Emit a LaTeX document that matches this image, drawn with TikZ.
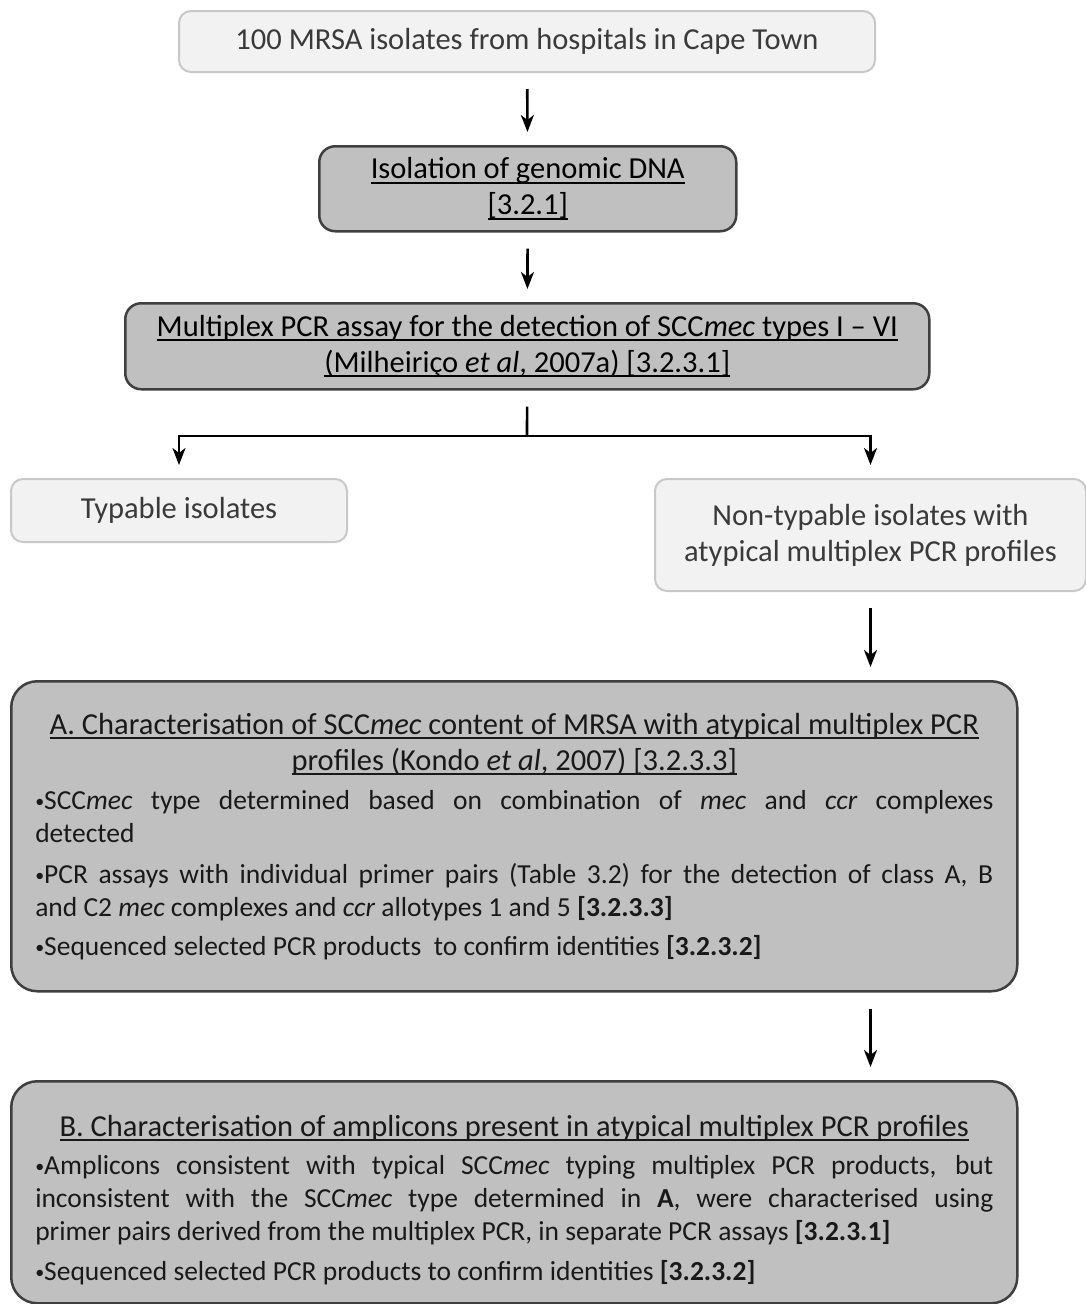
\documentclass[tikz,border=0pt]{standalone}
\usepackage{fontspec}
\setmainfont{Carlito}
\usetikzlibrary{arrows.meta,calc,positioning}
\definecolor{mrsapale}{HTML}{F2F2F2}
\definecolor{mrsapaleedge}{HTML}{C8C8C8}
\definecolor{mrsagray}{HTML}{C0C0C0}
\definecolor{mrsadarkedge}{HTML}{3F3F3F}
\definecolor{mrsatext}{HTML}{3A3A3A}
\newcommand{\SCCmec}{SCC\textit{mec}}
\newcommand{\headul}[1]{\leavevmode\setbox0\hbox{#1}\rlap{\rule[-5pt]{\wd0}{1.8pt}}\box0}
\newcommand{\headfont}{\fontsize{30.5}{36}\selectfont}
\newcommand{\dotitem}{\raisebox{0.15ex}{\fontsize{18}{18}\selectfont •}}

\begin{document}
\begin{tikzpicture}[
  x=1pt,y=-1pt,
  >=Stealth,
  basebox/.style={anchor=north west,align=center,inner sep=0pt,font=\headfont},
  sample/.style={basebox,draw=mrsapaleedge,line width=2pt,fill=mrsapale,
                 rounded corners=12pt,text=mrsatext},
  method/.style={basebox,draw=mrsadarkedge,line width=2.5pt,fill=mrsagray,
                 rounded corners=16pt,text=black},
  detail/.style={method,rounded corners=26pt,align=justify,text width=958pt,
                 text=black!90,font=\fontsize{27.5}{33}\selectfont},
  flow/.style={line width=2.6pt,-{Stealth[length=17pt,width=13pt,inset=5pt]},
               shorten <=16pt,shorten >=13pt},
  branch/.style={line width=2.6pt,shorten <=16pt}
]
  \useasboundingbox (0,0) rectangle (1086,1304);

  \node[sample,minimum width=696pt,minimum height=61pt] (isolates) at (178,10)
    {100 MRSA isolates from hospitals in Cape Town};
  \node[method,minimum width=417pt,minimum height=85pt] (dna) at (318,145)
    {\headul{Isolation of genomic DNA}\\\headul{[3.2.1]}};
  \node[method,minimum width=804pt,minimum height=86pt] (mpcr) at (124,302)
    {\headul{Multiplex PCR assay for the detection of \SCCmec{} types I -- VI}\\
     \headul{(Milheiriço \textit{et al}, 2007a) [3.2.3.1]}};
  \node[sample,minimum width=336pt,minimum height=63pt] (typable) at (10,478)
    {Typable isolates};
  \node[sample,minimum width=431pt,minimum height=112pt] (nontypable) at (654,478)
    {Non-typable isolates with\\atypical multiplex PCR profiles};

  \node[detail,minimum width=1006pt,minimum height=310pt] (charA) at (10,680)
    {{\centering\headfont
      \headul{A. Characterisation of \SCCmec{} content of MRSA with atypical multiplex PCR}\\
      \headul{profiles (Kondo \textit{et al}, 2007) [3.2.3.3]}\par}\vspace{6pt}
     \dotitem\SCCmec{} type determined based on combination of \textit{mec} and \textit{ccr} complexes\linebreak
     detected\par\vspace{8pt}
     \dotitem PCR assays with individual primer pairs (Table 3.2) for the detection of class A, B\linebreak
     and C2 \textit{mec} complexes and \textit{ccr} allotypes 1 and 5 \textbf{[3.2.3.3]}\par\vspace{6pt}
     \dotitem Sequenced selected PCR products\ \ to confirm identities \textbf{[3.2.3.2]}};

  \node[detail,minimum width=1006pt,minimum height=222pt] (charB) at (10,1080)
    {{\centering\headfont\rule{0pt}{36pt}%
      \headul{B. Characterisation of amplicons present in atypical multiplex PCR profiles}\par}\vspace{5pt}
     \dotitem Amplicons consistent with typical \SCCmec{} typing multiplex PCR products, but\linebreak
     inconsistent with the \SCCmec{} type determined in \textbf{A}, were characterised using\linebreak
     primer pairs derived from the multiplex PCR, in separate PCR assays \textbf{[3.2.3.1]}\par\vspace{7pt}
     \dotitem Sequenced selected PCR products to confirm identities \textbf{[3.2.3.2]}};

  \coordinate (split) at (527,436);

  \draw[flow] (isolates) -- (dna);
  \draw[flow] (dna) -- (mpcr);
  \draw[branch] (mpcr) -- (split);
  \draw[flow,shorten <=0pt] (split) -| (typable.north);
  \draw[flow,shorten <=0pt] (split) -| (nontypable.north);
  \draw[flow] (nontypable.south) -- (nontypable.south |- charA.north);
  \draw[flow] (nontypable.south |- charA.south) -- (nontypable.south |- charB.north);
\end{tikzpicture}
\end{document}
